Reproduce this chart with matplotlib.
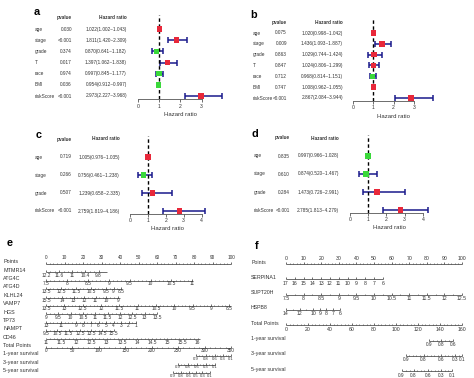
import matplotlib
matplotlib.use("Agg")
import matplotlib.pyplot as plt
from matplotlib.transforms import blended_transform_factory

plt.rcParams['font.family'] = ['Liberation Sans', 'DejaVu Sans']

W, H = 474, 378

# ---------------- forest plot data (a-d) ----------------
a_names = ['age', 'stage', 'grade', 'T', 'race', 'BMI', 'riskScore']
a_pval = ['0.030', '<0.001', '0.374', '0.017', '0.974', '0.036', '<0.001']
a_hr = [1.022, 1.811, 0.870, 1.397, 0.997, 0.954, 2.973]
a_low = [1.002, 1.420, 0.641, 1.062, 0.845, 0.912, 2.227]
a_high = [1.043, 2.309, 1.182, 1.838, 1.177, 0.997, 3.968]

b_names = ['age', 'stage', 'grade', 'T', 'race', 'BMI', 'riskScore']
b_pval = ['0.075', '0.009', '0.863', '0.847', '0.712', '0.747', '<0.001']
b_hr = [1.020, 1.436, 1.029, 1.024, 0.968, 1.008, 2.867]
b_low = [0.998, 1.093, 0.744, 0.806, 0.814, 0.962, 2.084]
b_high = [1.042, 1.887, 1.424, 1.299, 1.151, 1.055, 3.944]

c_names = ['age', 'stage', 'grade', 'riskScore']
c_pval = ['0.719', '0.266', '0.507', '<0.001']
c_hr = [1.005, 0.756, 1.239, 2.759]
c_low = [0.976, 0.461, 0.658, 1.819]
c_high = [1.035, 1.238, 2.335, 4.186]

d_names = ['age', 'stage', 'grade', 'riskScore']
d_pval = ['0.835', '0.610', '0.284', '<0.001']
d_hr = [0.997, 0.874, 1.473, 2.785]
d_low = [0.966, 0.520, 0.726, 1.813]
d_high = [1.028, 1.467, 2.991, 4.279]

# ---------------- nomogram data (e) ----------------
# tick labels and their position on the 0-100 "Points" scale
e_rows = ['MTMR14', 'ATG4C', 'ATG4D', 'KLHL24', 'VAMP7', 'HGS', 'TP73', 'NAMPT', 'CD46']
e_labels = [
    ['12.2', '11.6', '11', '10.4', '9.8'],
    ['7.5', '8', '8.5', '9', '9.5', '10', '10.5', '11'],
    ['13.5', '12.5', '11.5', '10.5', '9.5', '9', '8.5'],
    ['15.5', '14', '13', '12', '11', '10', '9'],
    ['13.5', '13', '12.5', '12', '11.5', '11', '10.5', '10', '9.5', '9', '8.5'],
    ['9', '9.5', '10', '10.5', '11', '11.5', '12', '12.5', '13', '13.5'],
    ['13', '11', '9', '8', '7', '6', '5', '4', '3', '2', '1'],
    ['9.5', '10.5', '11.5', '12.5', '13.5', '14.5', '15.5'],
    ['11', '11.5', '12', '12.5', '13', '13.5', '14', '14.5', '15', '15.5', '16'],
]
e_points = [
    [0, 7.1, 14.2, 21.3, 28.4],
    [0, 11.3, 22.6, 33.9, 45.2, 56.5, 67.8, 79.1],
    [0, 8.1, 16.2, 24.3, 32.4, 36.5, 40.5],
    [0, 8.9, 14.9, 20.8, 26.8, 32.7, 38.7],
    [0, 9.9, 19.8, 29.7, 39.6, 49.5, 59.4, 69.3, 79.2, 89.1, 99],
    [0, 6.7, 13.3, 20, 26.7, 33.3, 40, 46.7, 53.3, 60],
    [0, 8.1, 16.2, 20.3, 24.3, 28.4, 32.4, 36.5, 40.5, 44.6, 48.6],
    [0, 6.1, 12.2, 18.3, 24.4, 30.5, 36.6],
    [0, 8.2, 16.4, 24.6, 32.8, 41, 49.2, 57.4, 65.6, 73.8, 82],
]
e_line_end = [33, 79.5, 41, 40, 100, 60, 48.6, 37, 83]
e_total_max = 350
e_total_ticks = [0, 50, 100, 150, 200, 250, 300, 350]
e_surv_rows = ['1-year survival', '3-year survival', '5-year survival']
e_surv_labels = [
    ['0.9', '0.8', '0.6', '0.3', '0.1'],
    ['0.9', '0.8', '0.6', '0.3', '0.1'],
    ['0.9', '0.8', '0.6', '0.5', '0.3', '0.1'],
]
e_surv_total = [
    [284, 302, 319, 335, 350],
    [250, 268, 286, 303, 319],
    [240, 255, 270, 283, 296, 310],
]

# ---------------- nomogram data (f) ----------------
f_rows = ['SERPINA1', 'SUPT20H', 'HSPB8']
f_labels = [
    ['17', '16', '15', '14', '13', '12', '11', '10', '9', '8', '7', '6'],
    ['7.5', '8', '8.5', '9', '9.5', '10', '10.5', '11', '11.5', '12', '12.5'],
    ['14', '12', '10', '9', '8', '7', '6'],
]
f_points = [
    [0, 5, 10, 15, 20, 25, 30, 35, 40, 45, 50, 55],
    [0, 10, 20, 30, 40, 50, 60, 70, 80, 90, 100],
    [0, 7.7, 15.4, 19.2, 23, 26.9, 30.7],
]
f_line_end = [55, 100, 30.7]
f_total_max = 160
f_total_ticks = [0, 20, 40, 60, 80, 100, 120, 140, 160]
f_surv_rows = ['1-year survival', '3-year survival', '5-year survival']
f_surv_labels = [
    ['0.9', '0.8', '0.6'],
    ['0.9', '0.8', '0.6', '0.3', '0.1'],
    ['0.9', '0.8', '0.6', '0.3', '0.1'],
]
f_surv_total = [
    [130, 141, 152],
    [109, 125, 141, 154, 160],
    [105, 116, 129, 141, 151],
]

points_ticks = list(range(0, 101, 10))

fig = plt.figure(figsize=(W / 100, H / 100), dpi=100)
fig.patch.set_facecolor('white')

TXT = '#333333'
LINE = '#444444'


def panel_label(s, x, y):
    fig.text(x / W, 1 - y / H, s, fontsize=7.8, fontweight='bold',
             ha='center', va='center', color='black')


def forest(names, pvals, hr, low, high, x0, x1, y_first, y_last, name_x, p_x, hr_x):
    n = len(names)
    step = (y_last - y_first) / (n - 1)
    pad = 0.04 * n
    ylo, yhi = 1 - pad, n + 1 + pad
    top = y_last - (yhi - 1) * step
    bot = y_last + (1 - ylo) * step
    ax = fig.add_axes([x0 / W, 1 - bot / H, (x1 - x0) / W, (bot - top) / H])
    ax.set_xlim(0, max(high))
    ax.set_ylim(ylo, yhi)
    ys = list(range(n, 0, -1))
    err = [[h - l for h, l in zip(hr, low)], [u - h for h, u in zip(hr, high)]]
    ax.errorbar(hr, ys, xerr=err, fmt='none', ecolor='#1a1a8c',
                elinewidth=1.1, capsize=1.9, capthick=1.1, zorder=1)
    ax.axvline(1, color='black', ls=(0, (2.5, 1.8)), lw=1.0, zorder=2)
    colors = ['#e8283a' if v > 1 else '#3ad83a' for v in hr]
    ax.scatter(hr, ys, marker='s', s=15, c=colors, linewidths=0, zorder=3)
    for s in ['top', 'right', 'left']:
        ax.spines[s].set_visible(False)
    ticks = list(range(0, int(max(high)) + 1))
    ax.set_xticks(ticks)
    ax.spines['bottom'].set_bounds(ticks[0], ticks[-1])
    ax.spines['bottom'].set_color('#555555')
    ax.spines['bottom'].set_linewidth(0.6)
    ax.set_yticks([])
    ax.tick_params(axis='x', labelsize=3.7, length=2, width=0.6, pad=1.2,
                   colors='#555555', labelcolor=TXT)
    ax.set_xlabel('Hazard ratio', fontsize=4.3, labelpad=2.2, color=TXT)
    ax.patch.set_alpha(0)

    tr = blended_transform_factory(fig.transFigure, ax.transData)
    ax.text(p_x / W, n + 1, 'pvalue', transform=tr, ha='right', va='center',
            fontsize=3.4, fontweight='bold', color=TXT)
    ax.text(hr_x / W, n + 1, 'Hazard ratio', transform=tr, ha='right', va='center',
            fontsize=3.4, fontweight='bold', color=TXT)
    for y, nm, p, h, l, u in zip(ys, names, pvals, hr, low, high):
        ax.text(name_x / W, y, nm, transform=tr, ha='left', va='center',
                fontsize=3.4, color=TXT)
        ax.text(p_x / W, y, p, transform=tr, ha='right', va='center',
                fontsize=3.4, color=TXT)
        ax.text(hr_x / W, y, f'{h:.3f}({l:.3f}~{u:.3f})', transform=tr,
                ha='right', va='center', fontsize=3.4, color=TXT)
    return ax


def nomogram(x0, x1, y0, step, nrows):
    bot = y0 + (nrows - 1) * step
    ax = fig.add_axes([x0 / W, 1 - bot / H, (x1 - x0) / W, (bot - y0) / H])
    ax.set_xlim(0, 100)
    ax.set_ylim(nrows - 1, 0)
    ax.axis('off')
    ax.px_per_pt = (x1 - x0) / 100.0
    ax.step_px = step
    return ax


def nomo_row(ax, r, name, name_x, pos, labels, end=None, above=False,
             fs=3.4, name_fs=3.9, name_off=-2.2, lab_off=2.8, above_off=-6.5,
             sub_px=4.0, name_tr=None):
    sp = ax.step_px
    start = pos[0]
    stop = pos[-1] if end is None else max(end, pos[-1])
    ax.plot([start, stop], [r, r], color=LINE, lw=0.55, solid_capstyle='butt',
            clip_on=False)
    ax.vlines(pos, r - 1.9 / sp, r, color=LINE, lw=0.55, clip_on=False)
    minor = []
    for a, b in zip(pos[:-1], pos[1:]):
        gap = (b - a) * ax.px_per_pt
        k = max(1, int(round(gap / sub_px)))
        minor += [a + (b - a) * i / k for i in range(1, k)]
    if minor:
        ax.vlines(minor, r - 1.0 / sp, r, color=LINE, lw=0.45, clip_on=False)
    ly = r + (above_off if above else lab_off) / sp
    for p, t in zip(pos, labels):
        ax.text(p, ly, t, ha='center', va='center', fontsize=fs, color=TXT,
                clip_on=False)
    ax.text(name_x / W, r + name_off / sp, name, transform=name_tr,
            ha='left', va='center', fontsize=name_fs, color=TXT)


# ---------------- panels a-d ----------------
panel_label('a', 37, 12)
forest(a_names, a_pval, a_hr, a_low, a_high, 138, 222, 29, 96, 35, 72, 127)
panel_label('b', 254, 15)
forest(b_names, b_pval, b_hr, b_low, b_high, 353, 433, 33, 98, 253, 287, 343)
panel_label('c', 39, 135)
forest(c_names, c_pval, c_hr, c_low, c_high, 130, 205, 157, 211, 35, 72, 120)
panel_label('d', 255, 134)
forest(d_names, d_pval, d_hr, d_low, d_high, 350, 428, 156, 210, 254, 290, 339)

# ---------------- panel e ----------------
panel_label('e', 10, 243)
n_e = 1 + len(e_rows) + 1 + len(e_surv_rows)
axe = nomogram(46, 231, 264, 8.38, n_e)
tre = blended_transform_factory(fig.transFigure, axe.transData)
nomo_row(axe, 0, 'Points', 3, points_ticks, [str(t) for t in points_ticks],
         above=True, name_tr=tre, sub_px=3.7)
for i, (nm, lab, pos, end) in enumerate(zip(e_rows, e_labels, e_points, e_line_end)):
    nomo_row(axe, i + 1, nm, 3, pos, lab, end=end, name_tr=tre)
r = len(e_rows) + 1
nomo_row(axe, r, 'Total Points', 3,
         [t * 100 / e_total_max for t in e_total_ticks],
         [str(t) for t in e_total_ticks], name_tr=tre, sub_px=5.3)
for j, (nm, lab, tp) in enumerate(zip(e_surv_rows, e_surv_labels, e_surv_total)):
    nomo_row(axe, r + 1 + j, nm, 3, [t * 100 / e_total_max for t in tp], lab,
             name_tr=tre, sub_px=3.0, fs=3.0)

# ---------------- panel f ----------------
panel_label('f', 257, 246)
n_f = 1 + len(f_rows) + 1 + len(f_surv_rows)
axf = nomogram(286, 462, 264, 15.3, n_f)
trf = blended_transform_factory(fig.transFigure, axf.transData)
fkw = dict(name_fs=3.8, name_off=-2.0, lab_off=4.0, above_off=-5.0,
           name_tr=trf)
nomo_row(axf, 0, 'Points', 252, points_ticks, [str(t) for t in points_ticks],
         above=True, sub_px=3.5, fs=3.7, **fkw)
for i, (nm, lab, pos, end) in enumerate(zip(f_rows, f_labels, f_points, f_line_end)):
    nomo_row(axf, i + 1, nm, 251, pos, lab, end=end, sub_px=9.0, fs=3.7, **fkw)
r = len(f_rows) + 1
nomo_row(axf, r, 'Total Points', 251,
         [t * 100 / f_total_max for t in f_total_ticks],
         [str(t) for t in f_total_ticks], sub_px=3.5, fs=3.7, **fkw)
for j, (nm, lab, tp) in enumerate(zip(f_surv_rows, f_surv_labels, f_surv_total)):
    nomo_row(axf, r + 1 + j, nm, 251, [t * 100 / f_total_max for t in tp], lab,
             sub_px=3.5, fs=3.4, **fkw)

fig.savefig('out.png', dpi=100, facecolor='white')
